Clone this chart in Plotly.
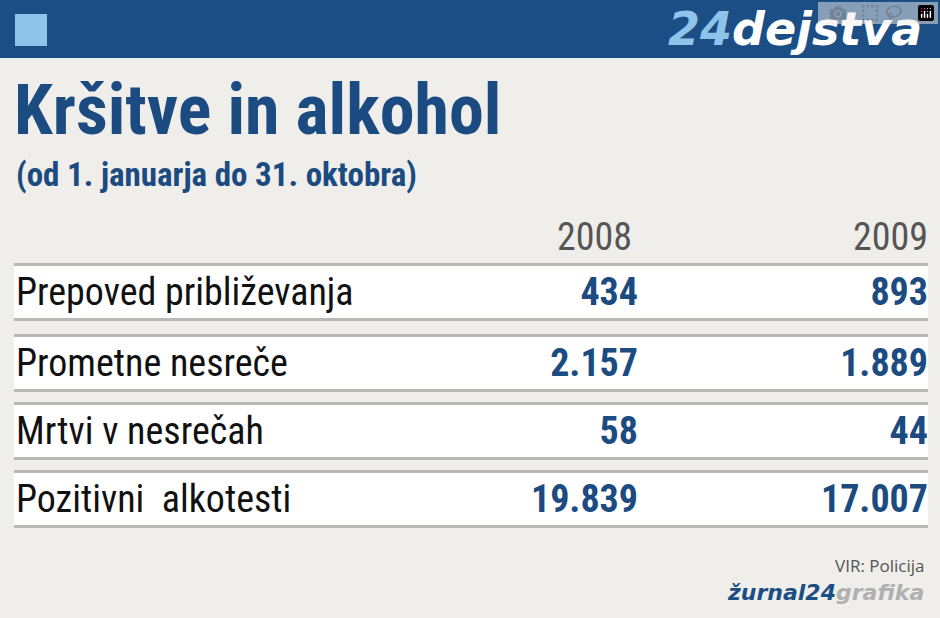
import plotly.graph_objects as go

categories = ["Prepoved približevanja", "Prometne nesreče", "Mrtvi v nesrečah", "Pozitivni  alkotesti"]
years = ["2008", "2009"]
values_2008 = ["434", "2.157", "58", "19.839"]
values_2009 = ["893", "1.889", "44", "17.007"]

W, H = 940, 618
BLUE = "#1b4b80"
NARROW = "Liberation Sans Narrow, Arial Narrow, Roboto Condensed, sans-serif"

fig = go.Figure()
shapes = [
    dict(type="rect", x0=0, x1=W, y0=0, y1=58, fillcolor="#1c4e86", line_width=0, layer="below"),
    dict(type="rect", x0=15, x1=47, y0=14, y1=46, fillcolor="#8ec3ea", line_width=0),
]
row_tops = [265, 336, 404, 472]
row_h = 54
for t in row_tops:
    shapes.append(dict(type="rect", x0=14, x1=928, y0=t - 2, y1=t + row_h + 2, fillcolor="#b9b8b4", line_width=0, layer="below"))
    shapes.append(dict(type="rect", x0=14, x1=928, y0=t + 1, y1=t + row_h - 1, fillcolor="white", line_width=0, layer="below"))

centers = [t + row_h / 2 + 3 for t in row_tops]
fig.add_trace(go.Scatter(x=[16] * 4, y=centers, text=categories, mode="text", textposition="middle right",
                         textfont=dict(family=NARROW, size=38, color="#111111"), hoverinfo="skip"))
fig.add_trace(go.Scatter(x=[638] * 4, y=centers, text=values_2008, mode="text", textposition="middle left",
                         textfont=dict(family=NARROW, size=38, color=BLUE, weight="bold"), hoverinfo="skip"))
fig.add_trace(go.Scatter(x=[928] * 4, y=centers, text=values_2009, mode="text", textposition="middle left",
                         textfont=dict(family=NARROW, size=38, color=BLUE, weight="bold"), hoverinfo="skip"))
fig.add_trace(go.Scatter(x=[632, 928], y=[240, 240], text=years, mode="text", textposition="middle left",
                         textfont=dict(family=NARROW, size=38, color="#555555"), hoverinfo="skip"))

ann = [
    dict(x=12, y=110, text="<b>Kršitve in alkohol</b>", xanchor="left", yanchor="middle",
         font=dict(family=NARROW, size=70, color=BLUE)),
    dict(x=14, y=174, text="<b>(od 1. januarja do 31. oktobra)</b>", xanchor="left", yanchor="middle",
         font=dict(family=NARROW, size=33, color=BLUE)),
    dict(x=924, y=29, text="<b><i><span style='color:#8ec3ea'>24</span>dejstva</i></b>", xanchor="right", yanchor="middle",
         font=dict(family="DejaVu Sans", size=46, color="white")),
    dict(x=926, y=565, text="VIR: Policija", xanchor="right", yanchor="middle",
         font=dict(family="Open Sans", size=17, color="#555555")),
    dict(x=926, y=592, text="<b><i><span style='color:#1c4e86'>žurnal24</span>grafika</i></b>", xanchor="right", yanchor="middle",
         font=dict(family="DejaVu Sans", size=22, color="#b0b0b0")),
]
for a in ann:
    a.update(xref="x", yref="y", showarrow=False)

fig.update_layout(
    width=W, height=H, margin=dict(l=0, r=0, t=0, b=0),
    paper_bgcolor="#efeeea", plot_bgcolor="#efeeea", showlegend=False,
    xaxis=dict(range=[0, W], visible=False, fixedrange=True),
    yaxis=dict(range=[H, 0], visible=False, fixedrange=True),
    shapes=shapes, annotations=ann,
)
fig.write_html("out.html", post_script="document.body.style.margin='0';document.body.style.overflow='hidden';")
